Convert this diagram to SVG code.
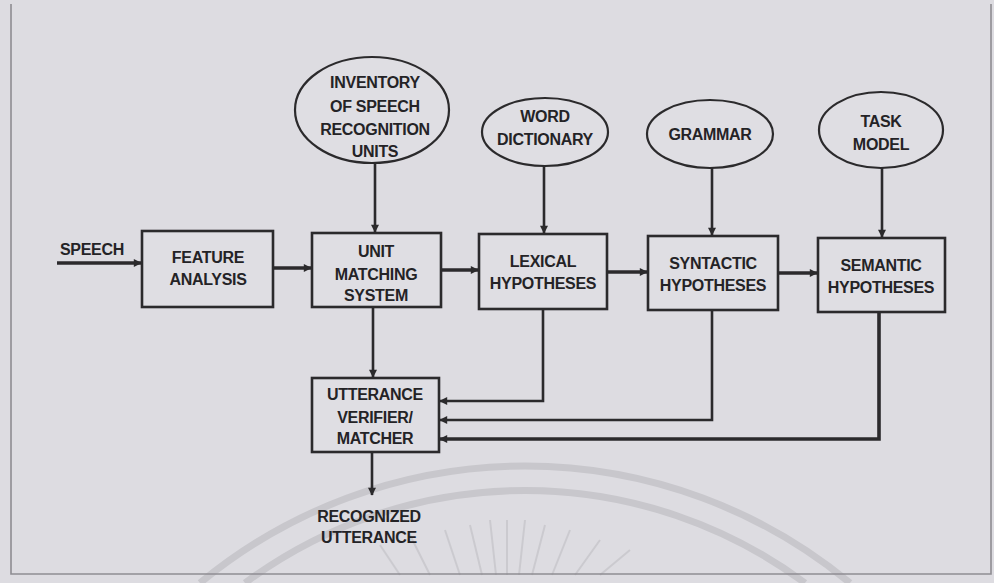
<svg xmlns="http://www.w3.org/2000/svg" width="994" height="583" viewBox="0 0 994 583">
<defs>
<marker id="ah" viewBox="0 0 10 10" refX="9" refY="5" markerWidth="10" markerHeight="8" markerUnits="userSpaceOnUse" orient="auto">
<path d="M0,0 L10,5 L0,10 Z" fill="#2b2a2c"/>
</marker>
<style>
.bg{fill:#dddce1}
.frame{fill:none;stroke:#8e8d92;stroke-width:1.6}
.wm{fill:none;stroke:#c8c7cc;stroke-width:7}
.ray{stroke:#cbcacf;stroke-width:2}
.box{fill:#dfdee3;stroke:#2b2a2c;stroke-width:2.6}
.ell{fill:#dfdee3;stroke:#2b2a2c;stroke-width:2.2}
.lbl{font-family:"Liberation Sans",Arial,Helvetica,sans-serif;font-weight:bold;font-size:16px;fill:#242326;text-anchor:middle;letter-spacing:-0.3px}
.ln{fill:none;stroke:#2b2a2c;stroke-width:2.6}
.thick{fill:none;stroke:#2b2a2c;stroke-width:3.6}
</style>
</defs>
<rect class="bg" x="0" y="0" width="994" height="583"/>
<g id="watermark">
<path class="wm" d="M200,583 A510,510 0 0 1 850,583"/>
<path class="wm" d="M245,583 A470,470 0 0 1 805,583"/>
<line class="ray" x1="380" y1="545" x2="400" y2="575"/>
<line class="ray" x1="410" y1="535" x2="430" y2="575"/>
<line class="ray" x1="445" y1="530" x2="460" y2="575"/>
<line class="ray" x1="470" y1="525" x2="482" y2="575"/>
<line class="ray" x1="490" y1="520" x2="496" y2="575"/>
<line class="ray" x1="507" y1="520" x2="507" y2="575"/>
<line class="ray" x1="525" y1="520" x2="519" y2="575"/>
<line class="ray" x1="545" y1="525" x2="532" y2="575"/>
<line class="ray" x1="570" y1="530" x2="552" y2="575"/>
<line class="ray" x1="600" y1="540" x2="575" y2="575"/>
<line class="ray" x1="630" y1="550" x2="600" y2="575"/>
</g>
<path class="frame" d="M11,4 L11,574 L991,574 L991,4"/>
<g id="connectors">
<line class="thick" x1="57" y1="263" x2="141" y2="263" marker-end="url(#ah)"/>
<line class="thick" x1="273" y1="268" x2="311" y2="268" marker-end="url(#ah)"/>
<line class="thick" x1="441" y1="270" x2="478" y2="270" marker-end="url(#ah)"/>
<line class="thick" x1="607" y1="272" x2="647" y2="272" marker-end="url(#ah)"/>
<line class="thick" x1="778" y1="273" x2="817" y2="273" marker-end="url(#ah)"/>
<line class="ln" x1="375" y1="163" x2="375" y2="232" marker-end="url(#ah)"/>
<line class="ln" x1="544" y1="166" x2="544" y2="233" marker-end="url(#ah)"/>
<line class="ln" x1="712" y1="168" x2="712" y2="235" marker-end="url(#ah)"/>
<line class="ln" x1="882" y1="168" x2="882" y2="237" marker-end="url(#ah)"/>
<line class="ln" x1="373" y1="307" x2="373" y2="377" marker-end="url(#ah)"/>
<path class="ln" d="M543,309 L543,401 L440,401" marker-end="url(#ah)"/>
<path class="ln" d="M712,310 L712,420 L440,420" marker-end="url(#ah)"/>
<path class="thick" d="M879,312 L879,439 L440,439" marker-end="url(#ah)"/>
<line class="ln" x1="372" y1="452" x2="372" y2="495" marker-end="url(#ah)"/>
</g>
<g id="speech">
<text class="lbl" x="92" y="255">SPEECH</text>
</g>
<g id="feature-analysis">
<rect class="box" x="142" y="231" width="131" height="76"/>
<text class="lbl" x="208" y="263">FEATURE</text>
<text class="lbl" x="208" y="285">ANALYSIS</text>
</g>
<g id="inventory">
<ellipse class="ell" cx="372" cy="110" rx="77" ry="53"/>
<text class="lbl" x="375" y="88">INVENTORY</text>
<text class="lbl" x="375" y="112">OF SPEECH</text>
<text class="lbl" x="375" y="135">RECOGNITION</text>
<text class="lbl" x="375" y="157">UNITS</text>
</g>
<g id="unit-matching">
<rect class="box" x="312" y="233" width="129" height="74"/>
<text class="lbl" x="376" y="257">UNIT</text>
<text class="lbl" x="376" y="280">MATCHING</text>
<text class="lbl" x="376" y="301">SYSTEM</text>
</g>
<g id="word-dictionary">
<ellipse class="ell" cx="545" cy="132" rx="63" ry="34"/>
<text class="lbl" x="545" y="122">WORD</text>
<text class="lbl" x="545" y="145">DICTIONARY</text>
</g>
<g id="lexical">
<rect class="box" x="479" y="234" width="128" height="75"/>
<text class="lbl" x="543" y="267">LEXICAL</text>
<text class="lbl" x="543" y="289">HYPOTHESES</text>
</g>
<g id="grammar">
<ellipse class="ell" cx="710" cy="134" rx="63" ry="34"/>
<text class="lbl" x="710" y="140">GRAMMAR</text>
</g>
<g id="syntactic">
<rect class="box" x="648" y="236" width="130" height="74"/>
<text class="lbl" x="713" y="269">SYNTACTIC</text>
<text class="lbl" x="713" y="291">HYPOTHESES</text>
</g>
<g id="task-model">
<ellipse class="ell" cx="881" cy="130" rx="62" ry="38"/>
<text class="lbl" x="881" y="127">TASK</text>
<text class="lbl" x="881" y="150">MODEL</text>
</g>
<g id="semantic">
<rect class="box" x="818" y="238" width="127" height="74"/>
<text class="lbl" x="881" y="271">SEMANTIC</text>
<text class="lbl" x="881" y="293">HYPOTHESES</text>
</g>
<g id="utterance-verifier">
<rect class="box" x="312" y="378" width="127" height="74"/>
<text class="lbl" x="375" y="400">UTTERANCE</text>
<text class="lbl" x="375" y="423">VERIFIER/</text>
<text class="lbl" x="375" y="444">MATCHER</text>
</g>
<g id="recognized">
<text class="lbl" x="369" y="522">RECOGNIZED</text>
<text class="lbl" x="369" y="543">UTTERANCE</text>
</g>
</svg>
